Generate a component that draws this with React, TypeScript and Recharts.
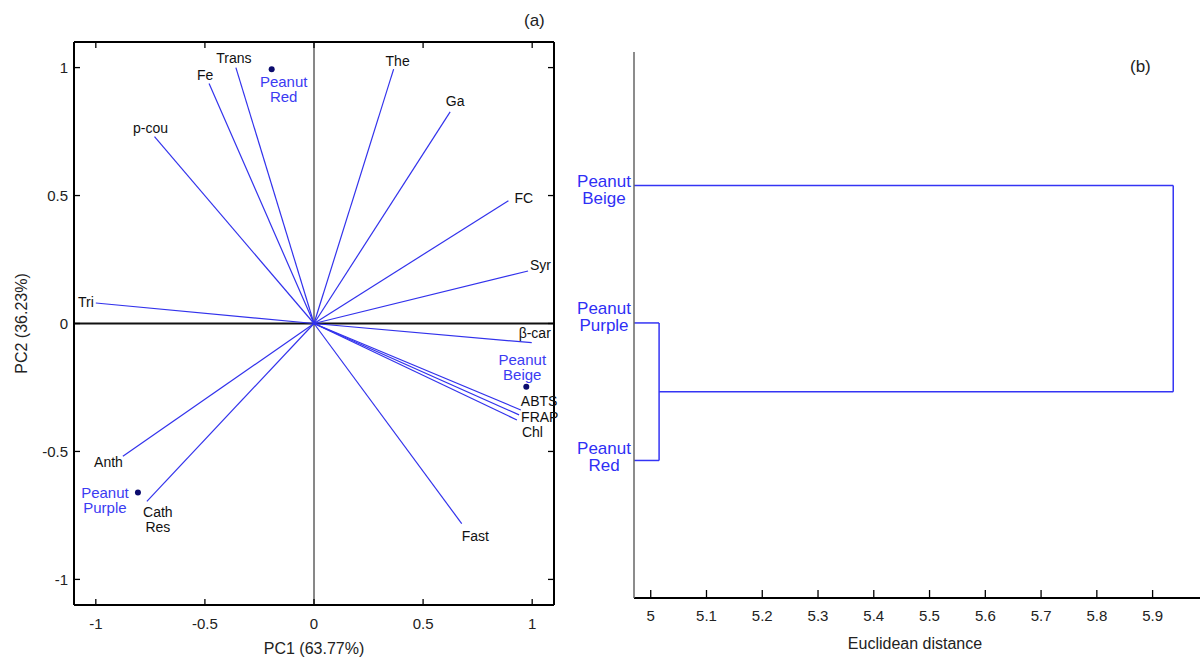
import React from 'react';
import { ScatterChart, Scatter, XAxis, YAxis, ReferenceLine } from 'recharts';

// ---- panel (a): PCA biplot ----
const variables = ['Tri', 'p-cou', 'Fe', 'Trans', 'The', 'Ga', 'FC', 'Syr', 'β-car', 'ABTS', 'FRAP', 'Chl', 'Fast', 'Anth', 'Cath\nRes'];
const pc1Loadings = [-1.0, -0.731, -0.481, -0.358, 0.365, 0.624, 0.891, 0.981, 0.998, 0.948, 0.94, 0.93, 0.677, -0.876, -0.766];
const pc2Loadings = [0.08, 0.73, 0.938, 1.0, 0.994, 0.827, 0.48, 0.205, -0.075, -0.338, -0.357, -0.377, -0.782, -0.519, -0.695];

const samples = ['Peanut\nRed', 'Peanut\nBeige', 'Peanut\nPurple'];
const samplePc1 = [-0.194, 0.973, -0.807];
const samplePc2 = [0.994, -0.247, -0.66];

const pcTicks = [-1, -0.5, 0, 0.5, 1];

// ---- panel (b): dendrogram ----
const leaves = ['Peanut\nBeige', 'Peanut\nPurple', 'Peanut\nRed'];
const leafRank = [3, 2, 1];
const mergeDistances = [5.015, 5.937]; // Purple+Red, then + Beige
const distanceTicks = [5, 5.1, 5.2, 5.3, 5.4, 5.5, 5.6, 5.7, 5.8, 5.9];

const FONT = "'Liberation Sans', Arial, Helvetica, sans-serif";
const VEC = '#3232ec';
const SAMPLE_TXT = '#3b3bf2';
const DOT = '#0c0c6e';

// label placement (px, relative to the point)
const varLabelPos: Record<string, { dx: number; dy: number; anchor: string }> = {
  Tri: { dx: -2, dy: -1, anchor: 'end' },
  'p-cou': { dx: -4, dy: -9, anchor: 'middle' },
  Fe: { dx: -4, dy: -8, anchor: 'middle' },
  Trans: { dx: -2, dy: -10, anchor: 'middle' },
  The: { dx: 4, dy: -8, anchor: 'middle' },
  Ga: { dx: 5, dy: -11, anchor: 'middle' },
  FC: { dx: 6, dy: -3, anchor: 'start' },
  Syr: { dx: 2, dy: -6, anchor: 'start' },
  'β-car': { dx: 3, dy: -10, anchor: 'middle' },
  ABTS: { dx: 0, dy: -9, anchor: 'start' },
  FRAP: { dx: 2, dy: 2, anchor: 'start' },
  Chl: { dx: 5, dy: 12, anchor: 'start' },
  Fast: { dx: 0, dy: 12, anchor: 'start' },
  Anth: { dx: 0, dy: 6, anchor: 'end' },
  'Cath\nRes': { dx: 11, dy: 11, anchor: 'middle' },
};
const sampleLabelPos: Record<string, { dx: number; dy: number }> = {
  'Peanut\nRed': { dx: 12, dy: 12 },
  'Peanut\nBeige': { dx: -4, dy: -28 },
  'Peanut\nPurple': { dx: -33, dy: 0 },
};
const leafLabelDy: Record<string, number> = {
  'Peanut\nBeige': -4,
  'Peanut\nPurple': -15,
  'Peanut\nRed': -12,
};

const varData = variables.map((name, i) => ({ name, x: pc1Loadings[i], y: pc2Loadings[i] }));
const sampleData = samples.map((name, i) => ({ name, x: samplePc1[i], y: samplePc2[i] }));

const pcDomain: [number, number] = [-1.1, 1.1];
const distDomain: [number, number] = [4.97, 5.985];
const rankDomain: [number, number] = [0, 3.97];

const multiline = (txt: string, x: number, lh: number) =>
  txt.split('\n').map((l, i) => (
    <tspan key={i} x={x} dy={i === 0 ? 0 : lh}>
      {l}
    </tspan>
  ));

const VarLabel = (p: any) => {
  const pos = varLabelPos[p.payload.name];
  const x = p.cx + pos.dx;
  return (
    <text x={x} y={p.cy + pos.dy} textAnchor={pos.anchor} dominantBaseline="central" fontSize={14} fill="#111" fontFamily={FONT}>
      {multiline(p.payload.name, x, 15)}
    </text>
  );
};

const SampleMark = (p: any) => {
  const pos = sampleLabelPos[p.payload.name];
  const x = p.cx + pos.dx;
  return (
    <g>
      <circle cx={p.cx} cy={p.cy} r={3} fill={DOT} />
      <text x={x} y={p.cy + pos.dy} textAnchor="middle" dominantBaseline="central" fontSize={15} fill={SAMPLE_TXT} fontFamily={FONT}>
        {multiline(p.payload.name, x, 15)}
      </text>
    </g>
  );
};

const BottomTick = (len: number, gap: number) => (p: any) => (
  <g>
    <line x1={p.x} x2={p.x} y1={p.y} y2={p.y - len} stroke="#000" strokeWidth={1.3} />
    <text x={p.x} y={p.y + gap} textAnchor="middle" dominantBaseline="central" fontSize={15} fill="#222" fontFamily={FONT}>
      {p.payload.value}
    </text>
  </g>
);

const LeftTick = (p: any) => (
  <g>
    <line x1={p.x} x2={p.x + 6} y1={p.y} y2={p.y} stroke="#000" strokeWidth={1.3} />
    <text x={p.x - 6} y={p.y} textAnchor="end" dominantBaseline="central" fontSize={15} fill="#222" fontFamily={FONT}>
      {p.payload.value}
    </text>
  </g>
);

// inward tick marks only, for the mirrored top / right frame axes
const TopTick = (p: any) => <line x1={p.x} x2={p.x} y1={p.y} y2={p.y + 6} stroke="#000" strokeWidth={1.3} />;
const RightTick = (p: any) => <line x1={p.x} x2={p.x - 6} y1={p.y} y2={p.y} stroke="#000" strokeWidth={1.3} />;

const LeafTick = (p: any) => {
  const name = leaves[leafRank.indexOf(p.payload.value)];
  if (!name) return <g />;
  const x = p.x - 30;
  return (
    <text x={x} y={p.y + leafLabelDy[name]} textAnchor="middle" dominantBaseline="central" fontSize={17} fill="#2f2ff5" fontFamily={FONT}>
      {multiline(name, x, 17)}
    </text>
  );
};

const PcaPanel = () => (
  <ScatterChart width={560} height={662} margin={{ top: 42, right: 6, bottom: 2, left: 10 }}>
    <XAxis
      type="number"
      dataKey="x"
      domain={pcDomain}
      ticks={pcTicks}
      tickSize={0}
      tickLine={false}
      tickMargin={0}
      height={55}
      axisLine={{ stroke: '#000', strokeWidth: 2 }}
      tick={BottomTick(6, 18)}
      label={{
        content: (lp: any) => (
          <text x={lp.viewBox.x + lp.viewBox.width / 2} y={lp.viewBox.y + 43} textAnchor="middle" dominantBaseline="central" fontSize={16} fill="#222" fontFamily={FONT}>
            PC1 (63.77%)
          </text>
        ),
      }}
    />
    <YAxis
      type="number"
      dataKey="y"
      domain={pcDomain}
      ticks={pcTicks}
      tickSize={0}
      tickLine={false}
      tickMargin={0}
      width={64}
      axisLine={{ stroke: '#000', strokeWidth: 2 }}
      tick={LeftTick}
      label={{
        content: (lp: any) => {
          const cx = lp.viewBox.x + 11;
          const cy = lp.viewBox.y + lp.viewBox.height / 2;
          return (
            <text x={cx} y={cy} transform={`rotate(-90 ${cx} ${cy})`} textAnchor="middle" dominantBaseline="central" fontSize={16} fill="#222" fontFamily={FONT}>
              PC2 (36.23%)
            </text>
          );
        },
      }}
    />
    <XAxis xAxisId="t" orientation="top" mirror type="number" dataKey="x" domain={pcDomain} ticks={pcTicks} tickSize={0} tickMargin={0} tickLine={false} tick={TopTick} axisLine={{ stroke: '#000', strokeWidth: 2 }} />
    <YAxis yAxisId="r" orientation="right" mirror type="number" dataKey="y" domain={pcDomain} ticks={pcTicks} tickSize={0} tickMargin={0} tickLine={false} tick={RightTick} axisLine={{ stroke: '#000', strokeWidth: 2 }} />

    <ReferenceLine x={0} stroke="#111" strokeWidth={1} />
    <ReferenceLine y={0} stroke="#111" strokeWidth={2} />
    {varData.map((v) => (
      <ReferenceLine key={v.name} segment={[{ x: 0, y: 0 }, { x: v.x, y: v.y }]} stroke={VEC} strokeWidth={1.2} ifOverflow="visible" />
    ))}
    <Scatter data={varData} shape={VarLabel} isAnimationActive={false} />
    <Scatter data={sampleData} shape={SampleMark} isAnimationActive={false} />
    <Scatter xAxisId="t" yAxisId="r" data={sampleData} shape={() => <g />} isAnimationActive={false} />
  </ScatterChart>
);

const xMin = distDomain[0];
const clusterRank = (leafRank[1] + leafRank[2]) / 2;
const dendroSegments = [
  [{ x: xMin, y: leafRank[1] }, { x: mergeDistances[0], y: leafRank[1] }],
  [{ x: xMin, y: leafRank[2] }, { x: mergeDistances[0], y: leafRank[2] }],
  [{ x: mergeDistances[0], y: leafRank[2] }, { x: mergeDistances[0], y: leafRank[1] }],
  [{ x: mergeDistances[0], y: clusterRank }, { x: mergeDistances[1], y: clusterRank }],
  [{ x: xMin, y: leafRank[0] }, { x: mergeDistances[1], y: leafRank[0] }],
  [{ x: mergeDistances[1], y: clusterRank }, { x: mergeDistances[1], y: leafRank[0] }],
];
const nodeData = [
  { x: mergeDistances[0], y: clusterRank },
  { x: mergeDistances[1], y: (clusterRank + leafRank[0]) / 2 },
];

const DendroPanel = () => (
  <ScatterChart width={641} height={662} margin={{ top: 52, right: 1, bottom: 4, left: 4 }}>
    <XAxis
      type="number"
      dataKey="x"
      domain={distDomain}
      ticks={distanceTicks}
      allowDataOverflow
      tickSize={0}
      tickLine={false}
      tickMargin={0}
      height={60}
      axisLine={{ stroke: '#000', strokeWidth: 2 }}
      tick={BottomTick(8, 17)}
      label={{
        content: (lp: any) => (
          <text x={lp.viewBox.x + 281} y={lp.viewBox.y + 45} textAnchor="middle" dominantBaseline="central" fontSize={16} fill="#222" fontFamily={FONT}>
            Euclidean distance
          </text>
        ),
      }}
    />
    <YAxis
      type="number"
      dataKey="y"
      domain={rankDomain}
      ticks={leafRank}
      allowDataOverflow
      tickSize={0}
      tickLine={false}
      tickMargin={0}
      width={70}
      axisLine={{ stroke: '#666', strokeWidth: 1.5 }}
      tick={LeafTick}
    />
    {dendroSegments.map((s, i) => (
      <ReferenceLine key={i} segment={s} stroke="#3434f4" strokeWidth={1.5} ifOverflow="visible" />
    ))}
    <Scatter data={nodeData} shape={() => <g />} isAnimationActive={false} />
  </ScatterChart>
);

const panelTag: React.CSSProperties = {
  position: 'absolute',
  fontFamily: FONT,
  fontSize: 17,
  color: '#222',
  lineHeight: '20px',
};

export default function App() {
  return (
    <div style={{ position: 'absolute', left: 0, top: 0, width: 1201, height: 662, background: '#fff', overflow: 'hidden' }}>
      <div style={{ position: 'absolute', left: 0, top: 0 }}>
        <PcaPanel />
      </div>
      <div style={{ position: 'absolute', left: 560, top: 0 }}>
        <DendroPanel />
      </div>
      <div style={{ ...panelTag, left: 524, top: 11 }}>(a)</div>
      <div style={{ ...panelTag, left: 1130, top: 57 }}>(b)</div>
    </div>
  );
}
